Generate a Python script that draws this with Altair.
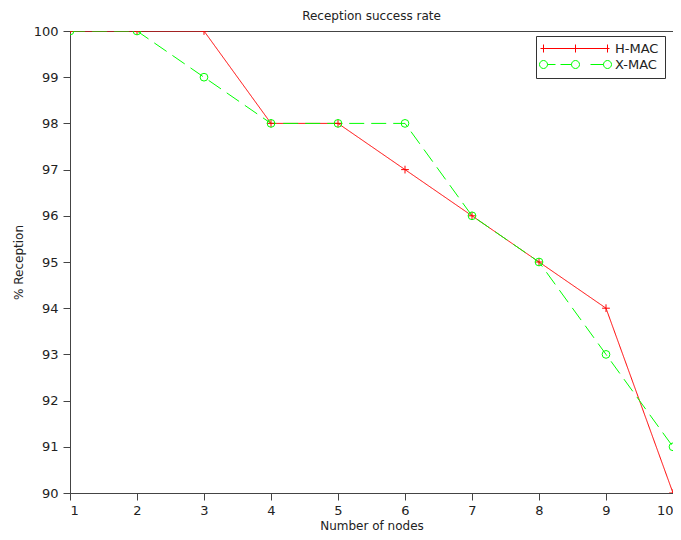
import altair as alt
import pandas as pd

nodes = [1, 2, 3, 4, 5, 6, 7, 8, 9, 10]
hmac = [100, 100, 100, 98, 98, 97, 96, 95, 94, 90]
xmac = [100, 100, 99, 98, 98, 98, 96, 95, 93, 91]
series_names = ["H-MAC", "X-MAC"]
series_colors = ["#ff0000", "#00ff00"]

x_ticks = [1 + 0.5 * i for i in range(19)]
y_ticks = [90 + 0.5 * i for i in range(21)]

rows = []
for n, v in zip(nodes, hmac):
    rows.append({"nodes": n, "value": v, "series": "H-MAC"})
for n, v in zip(nodes, xmac):
    rows.append({"nodes": n, "value": v, "series": "X-MAC"})
df = pd.DataFrame(rows)

FONT = "DejaVu Sans"
AXC = "#444444"
TXT = "#222222"

tick_cond = {"condition": {"test": "datum.value % 1 !== 0", "value": 3}, "value": 7}
label_expr = "datum.value % 1 === 0 ? format(datum.value, 'd') : ''"

x_enc = alt.X(
    "nodes:Q",
    scale=alt.Scale(domain=[1, 10], nice=False, zero=False),
    axis=alt.Axis(
        title="Number of nodes",
        values=x_ticks,
        labelExpr=label_expr,
        grid=False,
        tickSize=tick_cond,
        labelPadding=4,
        titlePadding=3,
    ),
)
y_enc = alt.Y(
    "value:Q",
    scale=alt.Scale(domain=[90, 100], nice=False, zero=False),
    axis=alt.Axis(
        title="% Reception",
        values=y_ticks,
        labelExpr=label_expr,
        grid=False,
        tickSize=tick_cond,
        labelPadding=5,
        titlePadding=8,
    ),
)


def color_enc(legend):
    return alt.Color(
        "series:N",
        scale=alt.Scale(domain=series_names, range=series_colors),
        legend=legend,
    )


base = alt.Chart(df)

lines = base.mark_line(clip=True, strokeWidth=1).encode(
    x=x_enc,
    y=y_enc,
    color=color_enc(None),
    strokeDash=alt.StrokeDash(
        "series:N",
        scale=alt.Scale(domain=series_names, range=[[1, 0], [15, 7]]),
        legend=None,
    ),
)

points = base.mark_point(clip=True, filled=False, strokeWidth=1, size=60, opacity=1).encode(
    x="nodes:Q",
    y="value:Q",
    color=color_enc(None),
    shape=alt.Shape(
        "series:N",
        scale=alt.Scale(domain=series_names, range=["M-1,0H1M0,-1V1", "circle"]),
        legend=None,
    ),
)

legend_paths = [
    "M-0.75,0H16.5M0,-1V1M8,-1V1M16,-1V1",
    "M-1,0a1,1 0 1,0 2,0a1,1 0 1,0 -2,0"
    "M7,0a1,1 0 1,0 2,0a1,1 0 1,0 -2,0"
    "M15,0a1,1 0 1,0 2,0a1,1 0 1,0 -2,0"
    "M1,0H3M4.25,0H7M11.75,0H15",
]

legend_def = alt.Legend(
    title=None,
    orient="none",
    legendX=466,
    legendY=5,
    symbolSize=64,
    symbolStrokeWidth=1,
    symbolFillColor="transparent",
    symbolOpacity=1,
    symbolOffset=-5,
    labelFont=FONT,
    labelFontSize=13,
    labelColor=TXT,
    labelOffset=65,
    labelExpr="datum.label + '\u00a0\u00a0'",
    rowPadding=2,
    padding=6,
    strokeColor="#333333",
    fillColor="white",
)

legend_layer = (
    base.transform_filter("datum.value > 1000")
    .mark_point(filled=False, strokeWidth=1, opacity=1)
    .encode(
        x="nodes:Q",
        y="value:Q",
        color=color_enc(legend_def),
        shape=alt.Shape(
            "series:N",
            scale=alt.Scale(domain=series_names, range=legend_paths),
            legend=legend_def,
        ),
    )
)

chart = (
    alt.layer(lines, points, legend_layer)
    .resolve_scale(shape="independent", color="independent")
    .properties(
        width=603,
        height=462,
        background="white",
        title=alt.TitleParams(
            "Reception success rate",
            font=FONT,
            fontSize=12,
            fontWeight="normal",
            color=TXT,
            offset=2,
        ),
        autosize=alt.AutoSizeParams(type="none"),
        padding={"left": 62, "top": 23, "right": 0, "bottom": 39},
    )
    .configure_view(stroke=AXC, strokeWidth=1)
    .configure_axis(
        domainColor=AXC,
        tickColor=AXC,
        labelColor=TXT,
        titleColor=TXT,
        labelFont=FONT,
        titleFont=FONT,
        labelFontSize=13,
        titleFontSize=12,
        titleFontWeight="normal",
        domainWidth=1,
        tickWidth=1,
    )
)

chart.save("out.html", embed_options={"renderer": "svg", "actions": False})
